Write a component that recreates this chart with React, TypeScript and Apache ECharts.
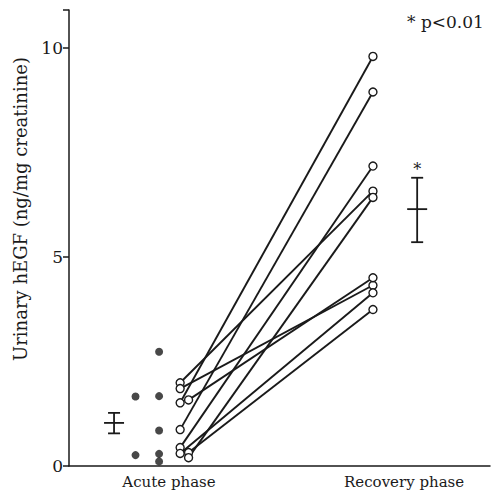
import React, { useEffect, useRef } from "react";
import * as echarts from "echarts";

// ---- data ----
const categories = ["Acute phase", "Recovery phase"];
const yTicks = [0, 5, 10];
const yAxisTitle = "Urinary hEGF (ng/mg creatinine)";
const significanceNote = "* p<0.01";

// acute-phase values without a recovery measurement (two dot columns)
const acuteOnlyColumnA = [1.66, 0.26];
const acuteOnlyColumnB = [2.73, 1.67, 0.85, 0.29, 0.11];

// paired patients: acute -> recovery
const pairedAcute = [1.99, 1.85, 1.51, 1.58, 0.87, 0.44, 0.3, 0.32, 0.2];
const pairedRecovery = [6.57, 4.32, 9.79, 4.5, 8.94, 7.17, 4.14, 3.74, 6.42];

// mean and error-bar limits
const acuteMean = [1.03, 0.78, 1.27];
const recoveryMean = [6.14, 5.35, 6.89];

// ---- layout (x positions on a 0..100 horizontal scale) ----
const X_LABEL = [23.75, 79.6];
const X_ACUTE_BAR = 10.7;
const X_DOTS_A = 15.8;
const X_DOTS_B = 21.4;
const X_PAIR_LEFT = [26.4, 28.4];
const PAIR_COLUMN = [0, 0, 0, 1, 0, 0, 0, 1, 1];
const X_PAIR_RIGHT = 72.2;
const X_RECOVERY_BAR = 82.7;

const INK = "#1a1a1a";
const FONT = "DejaVu Serif";

export default function App() {
  const ref = useRef<HTMLDivElement>(null);

  useEffect(() => {
    if (!ref.current) return;
    const chart = echarts.init(ref.current, undefined, { renderer: "svg" });

    const pairSeries = pairedAcute.map((a, i) => ({
      type: "line",
      data: [
        [X_PAIR_LEFT[PAIR_COLUMN[i]], a],
        [X_PAIR_RIGHT, pairedRecovery[i]],
      ],
      symbol: "circle",
      symbolSize: 8,
      showSymbol: true,
      lineStyle: { color: INK, width: 1.9 },
      itemStyle: { color: "#fff", borderColor: INK, borderWidth: 1.4 },
      z: 3,
      silent: true,
    }));

    const dots = [
      ...acuteOnlyColumnA.map((v) => [X_DOTS_A, v]),
      ...acuteOnlyColumnB.map((v) => [X_DOTS_B, v]),
    ];

    const bars = [
      [X_ACUTE_BAR, ...acuteMean, 0],
      [X_RECOVERY_BAR, ...recoveryMean, 1],
    ];

    chart.setOption({
      animation: false,
      backgroundColor: "#fff",
      grid: { left: 69, right: 8, top: 10, bottom: 26 },
      xAxis: {
        type: "value",
        min: 0,
        max: 100,
        axisLine: { show: true, lineStyle: { color: INK, width: 1.5 } },
        axisTick: { show: false },
        splitLine: { show: false },
        axisLabel: {
          customValues: X_LABEL,
          formatter: (v: number) =>
            Math.abs(v - X_LABEL[0]) < 0.01 ? categories[0] : categories[1],
          color: INK,
          fontFamily: FONT,
          fontSize: 15,
          margin: 8,
        },
      },
      yAxis: {
        type: "value",
        min: 0,
        max: 10.9,
        interval: 5,
        axisLine: { show: true, lineStyle: { color: INK, width: 1.5 } },
        axisTick: { show: true, length: 6, lineStyle: { color: INK, width: 1.5 } },
        splitLine: { show: false },
        axisLabel: {
          formatter: (v: number) => (yTicks.includes(v) ? String(v) : ""),
          color: INK,
          fontFamily: FONT,
          fontSize: 17,
          margin: 6,
        },
      },
      graphic: [
        {
          type: "text",
          x: 20,
          y: 209,
          rotation: Math.PI / 2,
          style: {
            text: yAxisTitle,
            fill: INK,
            font: `18px "${FONT}"`,
            align: "center",
            verticalAlign: "middle",
          },
        },
        {
          type: "text",
          x: 407,
          y: 22,
          style: {
            text: significanceNote,
            fill: INK,
            font: `17px "${FONT}"`,
            align: "left",
            verticalAlign: "middle",
          },
        },
      ],
      series: [
        ...pairSeries,
        {
          type: "scatter",
          data: dots,
          symbol: "circle",
          symbolSize: 8,
          itemStyle: { color: INK },
          z: 4,
          silent: true,
        },
        {
          type: "custom",
          data: bars,
          silent: true,
          z: 4,
          renderItem: (params: any, api: any) => {
            const x = api.value(0);
            const mid = api.coord([x, api.value(1)]);
            const lo = api.coord([x, api.value(2)]);
            const hi = api.coord([x, api.value(3)]);
            const starred = api.value(4) === 1;
            const cap = 6;
            const half = 10;
            const st = { stroke: INK, lineWidth: 1.8 };
            const children: any[] = [
              { type: "line", shape: { x1: mid[0], y1: hi[1], x2: mid[0], y2: lo[1] }, style: st },
              { type: "line", shape: { x1: mid[0] - cap, y1: hi[1], x2: mid[0] + cap, y2: hi[1] }, style: st },
              { type: "line", shape: { x1: mid[0] - cap, y1: lo[1], x2: mid[0] + cap, y2: lo[1] }, style: st },
              { type: "line", shape: { x1: mid[0] - half, y1: mid[1], x2: mid[0] + half, y2: mid[1] }, style: st },
            ];
            if (starred) {
              children.push({
                type: "text",
                x: mid[0],
                y: hi[1] - 8,
                style: {
                  text: "*",
                  fill: INK,
                  font: `16px "${FONT}"`,
                  align: "center",
                  verticalAlign: "middle",
                },
              });
            }
            return { type: "group", children };
          },
        },
      ],
    });

    return () => chart.dispose();
  }, []);

  return (
    <div
      ref={ref}
      style={{ position: "fixed", left: 0, top: 0, width: 498, height: 492, background: "#fff" }}
    />
  );
}
